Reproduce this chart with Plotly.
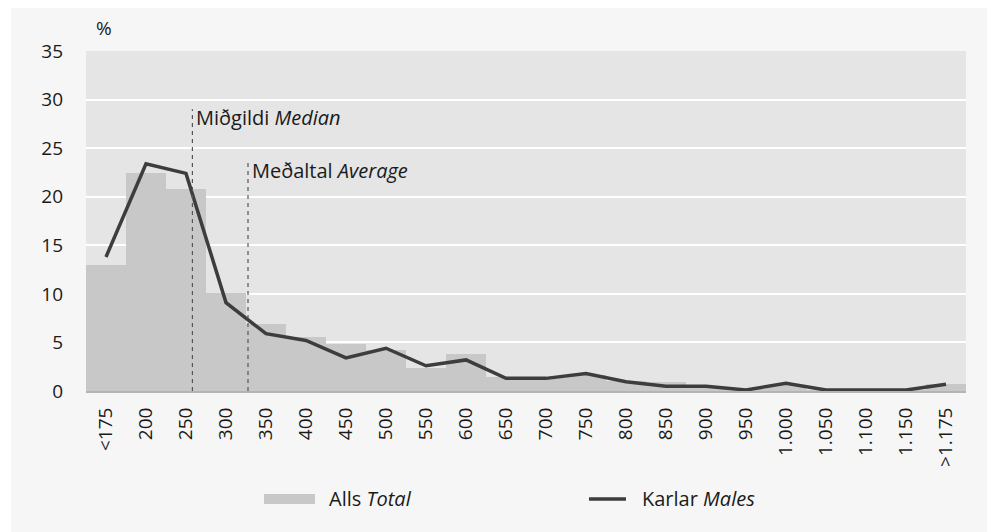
import plotly.graph_objects as go

# Wage bands (thous. ISK) and share of each group, %
categories = ['<175', '200', '250', '300', '350', '400', '450', '500', '550', '600',
              '650', '700', '750', '800', '850', '900', '950', '1.000', '1.050',
              '1.100', '1.150', '>1.175']
total = [13.0, 22.4, 20.8, 10.1, 6.9, 5.6, 4.8, 4.2, 2.4, 3.8, 1.4, 1.3,
         1.6, 1.0, 0.9, 0.4, 0.2, 0.6, 0.1, 0.1, 0.1, 0.7]
males = [13.8, 23.4, 22.4, 9.1, 5.9, 5.2, 3.4, 4.4, 2.6, 3.2, 1.3, 1.3,
         1.8, 0.95, 0.5, 0.5, 0.1, 0.8, 0.1, 0.1, 0.1, 0.7]

# reference lines, positions on the category scale
median_pos, median_top = 2.16, 29.0
average_pos, average_top = 3.55, 23.6

FONT = 'Open Sans'
TXT = '#1a1a1a'

fig = go.Figure()

fig.add_trace(go.Bar(
    x=categories, y=total, name='Alls Total',
    marker=dict(color='#c8c8c8', line=dict(width=0)),
    showlegend=False
))

fig.add_trace(go.Scatter(
    x=categories, y=males, name='Karlar Males', mode='lines',
    line=dict(color='#3d3d3d', width=3.5),
    showlegend=False
))

# dashed median / average markers
for pos, top in [(median_pos, median_top), (average_pos, average_top)]:
    fig.add_shape(type='line', xref='x', yref='y', x0=pos, x1=pos, y0=0, y1=top,
                  line=dict(color='#555555', width=1.2, dash='4px,4px'))

fig.add_annotation(x=median_pos, y=28.2, xref='x', yref='y', xanchor='left',
                   yanchor='middle', xshift=2, showarrow=False,
                   text='Miðgildi <i>Median</i>',
                   font=dict(family=FONT, size=20, color=TXT))
fig.add_annotation(x=average_pos, y=22.7, xref='x', yref='y', xanchor='left',
                   yanchor='middle', xshift=2, showarrow=False,
                   text='Meðaltal <i>Average</i>',
                   font=dict(family=FONT, size=20, color=TXT))

# unit label
fig.add_annotation(x=0.02, y=1.067, xref='paper', yref='paper', showarrow=False,
                   xanchor='center', yanchor='middle',
                   text='%', font=dict(family=FONT, size=19, color=TXT))

# hand drawn legend (wide bar swatch like the original)
fig.add_shape(type='rect', xref='paper', yref='paper', x0=0.2023, x1=0.2602,
              y0=-0.3324, y1=-0.3029, fillcolor='#c8c8c8', line=dict(width=0))
fig.add_annotation(x=0.2739, y=-0.3176, xref='paper', yref='paper', xanchor='left',
                   yanchor='middle', showarrow=False, text='Alls <i>Total</i>',
                   font=dict(family=FONT, size=20, color=TXT))
fig.add_shape(type='line', xref='paper', yref='paper', x0=0.5716, x1=0.6136,
              y0=-0.3176, y1=-0.3176, line=dict(color='#3d3d3d', width=3.5))
fig.add_annotation(x=0.6295, y=-0.3176, xref='paper', yref='paper', xanchor='left',
                   yanchor='middle', showarrow=False, text='Karlar <i>Males</i>',
                   font=dict(family=FONT, size=20, color=TXT))

# a little more white on the left edge of the grey panel
fig.add_shape(type='rect', xref='paper', yref='paper', x0=-0.2, x1=-0.0852,
              y0=-0.5, y1=1.2, fillcolor='white', line=dict(width=0))

# page body adds an 8px offset, so the figure is 8px smaller than the window
fig.update_layout(
    width=987, height=524,
    margin=dict(l=78, r=29, t=43, b=141),
    paper_bgcolor='#f6f6f6',
    plot_bgcolor='#e5e5e5',
    bargap=0,
    showlegend=False,
    font=dict(family=FONT, size=19, color=TXT),
    xaxis=dict(
        type='category', tickangle=-90, showgrid=False, automargin=False,
        showline=True, linecolor='#b4b4b4', linewidth=2,
        ticks='', ticklabelstandoff=7,
        tickfont=dict(family=FONT, size=19, color=TXT)
    ),
    yaxis=dict(
        range=[0, 35], dtick=5, showgrid=True, gridcolor='white', gridwidth=1.5,
        zeroline=False, showline=False, ticks='', ticklabelstandoff=22,
        automargin=False,
        tickfont=dict(family=FONT, size=19, color=TXT)
    )
)

fig.write_html("out.html")
